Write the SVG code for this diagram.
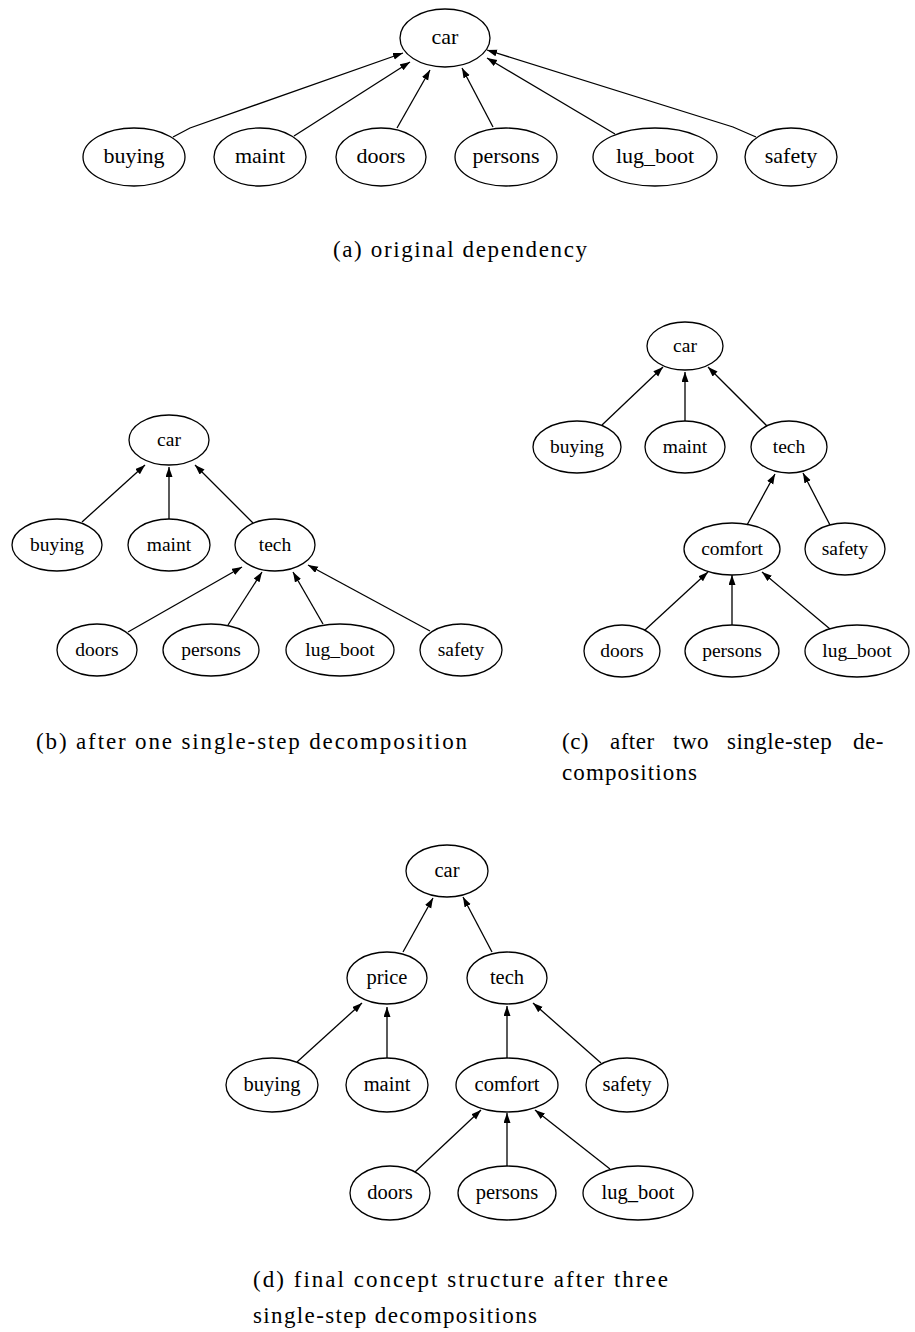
<svg xmlns="http://www.w3.org/2000/svg" width="915" height="1332" viewBox="0 0 915 1332">
<style>
  .bg { fill: #ffffff; }
  ellipse { fill: none; stroke: #000; stroke-width: 1.3; }
  .lbl { font-family: 'Liberation Serif', 'Times New Roman', Times, serif; text-anchor: middle; fill: #000; }
  .fa .lbl { font-size: 22px; }
  .fb .lbl, .fc .lbl { font-size: 19.5px; }
  .fd .lbl { font-size: 20.5px; }
  .edges path { fill: none; stroke: #000; stroke-width: 1.3; marker-end: url(#arrow); }
  .cap { font-family: 'Liberation Serif', 'Times New Roman', Times, serif; font-size: 23px; fill: #000; }
  .spaced { letter-spacing: 0.5px; }
</style>
<defs>
  <marker id="arrow" markerUnits="userSpaceOnUse" markerWidth="11" markerHeight="8" refX="10" refY="3.5" orient="auto">
    <path d="M0,0 L10,3.5 L0,7 z" fill="#000"/>
  </marker>
</defs>
<rect class="bg" x="0" y="0" width="915" height="1332"/>

<!-- (a) original dependency -->
<g id="fig-a" class="fa">
  <g class="edges">
    <path d="M173,137 L190,128 L403,53"/>
    <path d="M294,136 L410,62"/>
    <path d="M397,128 L430,70"/>
    <path d="M493,127 L462,68"/>
    <path d="M615,134 L487,58"/>
    <path d="M756,137 L733,127 L487,50"/>
  </g>
  <g id="a-car"><ellipse cx="445" cy="38" rx="45" ry="29"/><text class="lbl" x="445" y="44">car</text></g>
  <g id="a-buying"><ellipse cx="134" cy="157" rx="51" ry="29"/><text class="lbl" x="134" y="163">buying</text></g>
  <g id="a-maint"><ellipse cx="260" cy="157" rx="46" ry="29"/><text class="lbl" x="260" y="163">maint</text></g>
  <g id="a-doors"><ellipse cx="381" cy="157" rx="45" ry="29"/><text class="lbl" x="381" y="163">doors</text></g>
  <g id="a-persons"><ellipse cx="506" cy="157" rx="51" ry="29"/><text class="lbl" x="506" y="163">persons</text></g>
  <g id="a-lug_boot"><ellipse cx="655" cy="157" rx="62" ry="29"/><text class="lbl" x="655" y="163">lug_boot</text></g>
  <g id="a-safety"><ellipse cx="791" cy="157" rx="46" ry="29"/><text class="lbl" x="791" y="163">safety</text></g>
</g>
<text class="cap" x="333" y="257" textLength="254" lengthAdjust="spacing">(a) original dependency</text>

<!-- (b) after one single-step decomposition -->
<g id="fig-b" class="fb">
  <g class="edges">
    <path d="M82,522 L145,465"/>
    <path d="M169,519 L169,467"/>
    <path d="M253,523 L195,465"/>
    <path d="M128,632 L242,567"/>
    <path d="M228,625 L262,572"/>
    <path d="M323,624 L293,572"/>
    <path d="M430,631 L308,565"/>
  </g>
  <g id="b-car"><ellipse cx="169" cy="440" rx="40" ry="25"/><text class="lbl" x="169" y="446">car</text></g>
  <g id="b-buying"><ellipse cx="57" cy="545" rx="45" ry="26"/><text class="lbl" x="57" y="551">buying</text></g>
  <g id="b-maint"><ellipse cx="169" cy="545" rx="41" ry="26"/><text class="lbl" x="169" y="551">maint</text></g>
  <g id="b-tech"><ellipse cx="275" cy="545" rx="40" ry="26"/><text class="lbl" x="275" y="551">tech</text></g>
  <g id="b-doors"><ellipse cx="97" cy="650" rx="40" ry="26"/><text class="lbl" x="97" y="656">doors</text></g>
  <g id="b-persons"><ellipse cx="211" cy="650" rx="48" ry="26"/><text class="lbl" x="211" y="656">persons</text></g>
  <g id="b-lug_boot"><ellipse cx="340" cy="650" rx="54" ry="26"/><text class="lbl" x="340" y="656">lug_boot</text></g>
  <g id="b-safety"><ellipse cx="461" cy="650" rx="41" ry="26"/><text class="lbl" x="461" y="656">safety</text></g>
</g>
<text class="cap" x="36" y="749" textLength="431" lengthAdjust="spacing">(b) after one single-step decomposition</text>

<!-- (c) after two single-step decompositions -->
<g id="fig-c" class="fc">
  <g class="edges">
    <path d="M602,425 L663,367"/>
    <path d="M685,421 L685,372"/>
    <path d="M767,426 L708,367"/>
    <path d="M747,525 L775,474"/>
    <path d="M830,525 L803,473"/>
    <path d="M645,630 L708,572"/>
    <path d="M732,625 L732,575"/>
    <path d="M830,629 L762,572"/>
  </g>
  <g id="c-car"><ellipse cx="685" cy="346" rx="38" ry="24"/><text class="lbl" x="685" y="352">car</text></g>
  <g id="c-buying"><ellipse cx="577" cy="447" rx="44" ry="26"/><text class="lbl" x="577" y="453">buying</text></g>
  <g id="c-maint"><ellipse cx="685" cy="447" rx="40" ry="26"/><text class="lbl" x="685" y="453">maint</text></g>
  <g id="c-tech"><ellipse cx="789" cy="447" rx="38" ry="26"/><text class="lbl" x="789" y="453">tech</text></g>
  <g id="c-comfort"><ellipse cx="732" cy="549" rx="48" ry="26"/><text class="lbl" x="732" y="555">comfort</text></g>
  <g id="c-safety"><ellipse cx="845" cy="549" rx="40" ry="26"/><text class="lbl" x="845" y="555">safety</text></g>
  <g id="c-doors"><ellipse cx="622" cy="651" rx="38" ry="26"/><text class="lbl" x="622" y="657">doors</text></g>
  <g id="c-persons"><ellipse cx="732" cy="651" rx="47" ry="26"/><text class="lbl" x="732" y="657">persons</text></g>
  <g id="c-lug_boot"><ellipse cx="857" cy="651" rx="52" ry="26"/><text class="lbl" x="857" y="657">lug_boot</text></g>
</g>
<!-- justified first line: each word placed on its own -->
<text class="cap spaced" y="749"><tspan x="562">(c)</tspan><tspan x="610">after</tspan><tspan x="673">two</tspan><tspan x="727">single-step</tspan><tspan x="853">de-</tspan></text>
<text class="cap" x="562" y="780" textLength="135" lengthAdjust="spacing">compositions</text>

<!-- (d) final concept structure -->
<g id="fig-d" class="fd">
  <g class="edges">
    <path d="M403,952 L433,898"/>
    <path d="M492,952 L463,897"/>
    <path d="M297,1062 L362,1003"/>
    <path d="M387,1058 L387,1007"/>
    <path d="M507,1058 L507,1006"/>
    <path d="M601,1063 L533,1003"/>
    <path d="M415,1172 L481,1110"/>
    <path d="M507,1166 L507,1113"/>
    <path d="M610,1169 L535,1110"/>
  </g>
  <g id="d-car"><ellipse cx="447" cy="871" rx="41" ry="26"/><text class="lbl" x="447" y="877">car</text></g>
  <g id="d-price"><ellipse cx="387" cy="978" rx="40" ry="26"/><text class="lbl" x="387" y="984">price</text></g>
  <g id="d-tech"><ellipse cx="507" cy="978" rx="40" ry="26"/><text class="lbl" x="507" y="984">tech</text></g>
  <g id="d-buying"><ellipse cx="272" cy="1085" rx="46" ry="27"/><text class="lbl" x="272" y="1091">buying</text></g>
  <g id="d-maint"><ellipse cx="387" cy="1085" rx="41" ry="27"/><text class="lbl" x="387" y="1091">maint</text></g>
  <g id="d-comfort"><ellipse cx="507" cy="1085" rx="51" ry="27"/><text class="lbl" x="507" y="1091">comfort</text></g>
  <g id="d-safety"><ellipse cx="627" cy="1085" rx="41" ry="27"/><text class="lbl" x="627" y="1091">safety</text></g>
  <g id="d-doors"><ellipse cx="390" cy="1193" rx="40" ry="27"/><text class="lbl" x="390" y="1199">doors</text></g>
  <g id="d-persons"><ellipse cx="507" cy="1193" rx="49" ry="27"/><text class="lbl" x="507" y="1199">persons</text></g>
  <g id="d-lug_boot"><ellipse cx="638" cy="1193" rx="55" ry="27"/><text class="lbl" x="638" y="1199">lug_boot</text></g>
</g>
<text class="cap" x="253" y="1287" textLength="415" lengthAdjust="spacing">(d) final concept structure after three</text>
<text class="cap" x="253" y="1323" textLength="284" lengthAdjust="spacing">single-step decompositions</text>
</svg>
